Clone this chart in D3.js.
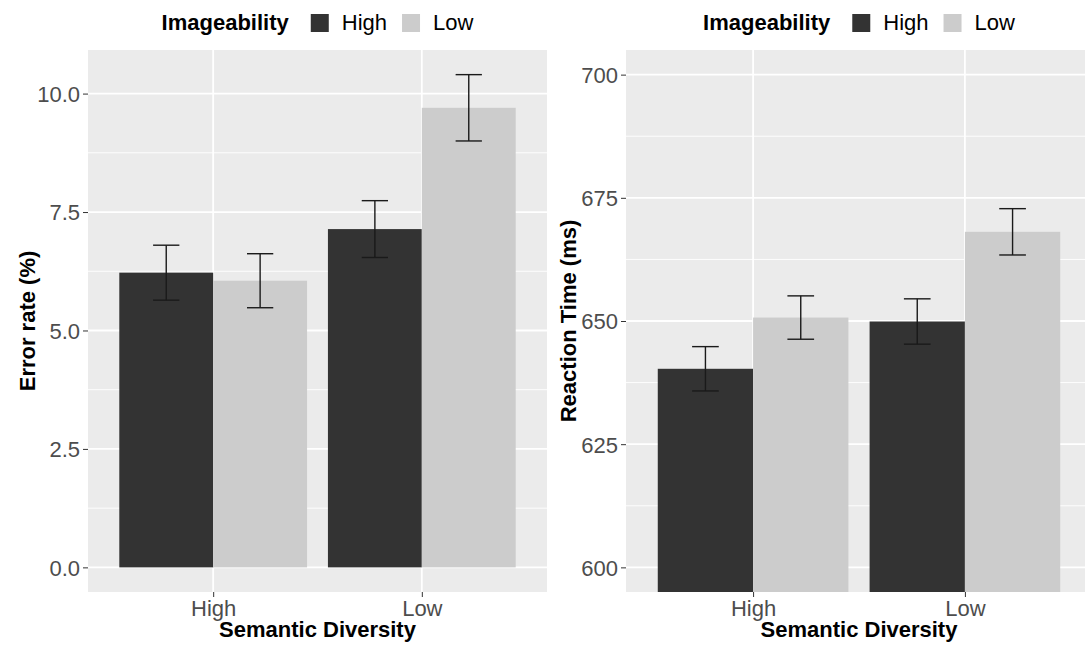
<!DOCTYPE html>
<html>
<head>
<meta charset="utf-8">
<script src="https://cdn.jsdelivr.net/npm/d3@7"></script>
<style>
  body { margin: 0; background: #fff; }
  text { font-family: "Liberation Sans", Arial, sans-serif; }
</style>
</head>
<body>
<div id="chart"></div>
<script>
// categories
const diversity = ['High', 'Low'];
const imageability = ['High', 'Low'];
const fills = ['#333333', '#CCCCCC'];

// error rate (%) : means and half-width of error bars, one array per imageability level
const errMeanHigh = [6.22, 7.14];
const errMeanLow  = [6.05, 9.70];
const errSeHigh   = [0.58, 0.60];
const errSeLow    = [0.57, 0.70];
const errTicks    = [0, 2.5, 5, 7.5, 10];

// reaction time (ms)
const rtMeanHigh = [640.3, 649.9];
const rtMeanLow  = [650.7, 668.1];
const rtSeHigh   = [4.5, 4.6];
const rtSeLow    = [4.4, 4.7];
const rtTicks    = [600, 625, 650, 675, 700];
const rtLimits   = [600, 700];

const W = 1085, H = 649;
const panelTop = 50, panelBottom = 592;

const svg = d3.select('#chart').append('svg')
    .attr('width', W)
    .attr('height', H);

// turn the arrays into rows for one panel
function rows(meanHigh, meanLow, seHigh, seLow){
    const out = [];
    diversity.forEach((d, i) => {
        out.push({div: d, img: 'High', mean: meanHigh[i], se: seHigh[i]});
        out.push({div: d, img: 'Low', mean: meanLow[i], se: seLow[i]});
    });
    return out;
}

function drawPanel(opt){
    const {x0, x1, data, ticks, fmt, title, titleX, limits, id} = opt;

    // y domain like ggplot: data range (or limits) expanded by 5%
    let lo, hi;
    if (limits){ [lo, hi] = limits; }
    else {
        lo = Math.min(0, d3.min(data, d => d.mean - d.se));
        hi = d3.max(data, d => d.mean + d.se);
    }
    const pad = (hi - lo) * 0.05;
    const y = d3.scaleLinear().domain([lo - pad, hi + pad]).range([panelBottom, panelTop]);

    const x = d3.scalePoint().domain(diversity).range([x0, x1]).padding(0.6);
    const inner = d3.scaleBand().domain(imageability)
        .range([-0.45 * x.step(), 0.45 * x.step()]).padding(0);
    const color = d3.scaleOrdinal().domain(imageability).range(fills);

    const g = svg.append('g');

    g.append('clipPath').attr('id', id)
        .append('rect')
        .attr('x', x0).attr('y', panelTop)
        .attr('width', x1 - x0).attr('height', panelBottom - panelTop);

    // panel background
    g.append('rect')
        .attr('x', x0).attr('y', panelTop)
        .attr('width', x1 - x0).attr('height', panelBottom - panelTop)
        .attr('fill', '#EBEBEB');

    const grid = g.append('g').attr('clip-path', `url(#${id})`);

    // minor gridlines halfway between major ones
    const minor = d3.pairs(ticks).map(([a, b]) => (a + b) / 2);
    grid.selectAll('line.minor')
        .data(minor)
        .join('line')
        .classed('minor', true)
        .attr('x1', x0).attr('x2', x1)
        .attr('y1', d => y(d)).attr('y2', d => y(d))
        .attr('stroke', '#fff').attr('stroke-width', 0.9);

    grid.selectAll('line.major')
        .data(ticks)
        .join('line')
        .classed('major', true)
        .attr('x1', x0).attr('x2', x1)
        .attr('y1', d => y(d)).attr('y2', d => y(d))
        .attr('stroke', '#fff').attr('stroke-width', 1.8);

    grid.selectAll('line.vmajor')
        .data(diversity)
        .join('line')
        .classed('vmajor', true)
        .attr('x1', d => x(d)).attr('x2', d => x(d))
        .attr('y1', panelTop).attr('y2', panelBottom)
        .attr('stroke', '#fff').attr('stroke-width', 1.8);

    // bars
    const base = Math.max(y.domain()[0], 0);
    grid.selectAll('rect.bar')
        .data(data)
        .join('rect')
        .classed('bar', true)
        .attr('x', d => x(d.div) + inner(d.img))
        .attr('width', inner.bandwidth())
        .attr('y', d => y(d.mean))
        .attr('height', d => y(base) - y(d.mean) + (limits ? 40 : 0))
        .attr('fill', d => color(d.img));

    // error bars
    const cap = inner.bandwidth() * 0.14;
    const eb = grid.selectAll('g.eb')
        .data(data)
        .join('g')
        .classed('eb', true)
        .attr('transform', d => `translate(${x(d.div) + inner(d.img) + inner.bandwidth() / 2},0)`)
        .attr('stroke', '#1a1a1a')
        .attr('stroke-width', 1.4);
    eb.append('line')
        .attr('y1', d => y(d.mean - d.se)).attr('y2', d => y(d.mean + d.se));
    eb.append('line')
        .attr('x1', -cap).attr('x2', cap)
        .attr('y1', d => y(d.mean + d.se)).attr('y2', d => y(d.mean + d.se));
    eb.append('line')
        .attr('x1', -cap).attr('x2', cap)
        .attr('y1', d => y(d.mean - d.se)).attr('y2', d => y(d.mean - d.se));

    // axes
    const yAxis = g.append('g')
        .attr('transform', `translate(${x0},0)`)
        .call(d3.axisLeft(y).tickValues(ticks).tickFormat(fmt).tickSize(5).tickPadding(3));
    const xAxis = g.append('g')
        .attr('transform', `translate(0,${panelBottom})`)
        .call(d3.axisBottom(x).tickSize(5).tickPadding(3));
    [yAxis, xAxis].forEach(a => {
        a.select('.domain').remove();
        a.selectAll('line').attr('stroke', '#333').attr('stroke-width', 1);
        a.selectAll('text')
            .attr('fill', '#4D4D4D')
            .style('font-size', '22px')
            .style('font-family', '"Liberation Sans", Arial, sans-serif');
    });
    yAxis.selectAll('text').attr('dy', '0.36em');
    xAxis.selectAll('text').attr('dy', '0.71em');

    // axis titles
    const cx = (x0 + x1) / 2;
    g.append('text')
        .attr('x', cx).attr('y', 637)
        .attr('text-anchor', 'middle')
        .style('font-size', '22px').style('font-weight', 'bold')
        .text('Semantic Diversity');
    g.append('text')
        .attr('transform', `translate(${titleX},${(panelTop + panelBottom) / 2}) rotate(-90)`)
        .attr('text-anchor', 'middle')
        .style('font-size', '22px').style('font-weight', 'bold')
        .text(title);

    // legend on top, centred over the panel
    const lg = g.append('g');
    const lt = lg.append('text')
        .attr('x', 0).attr('y', 30)
        .style('font-size', '22px').style('font-weight', 'bold')
        .text('Imageability');
    let pos = lt.node().getComputedTextLength() + 22;
    imageability.forEach(k => {
        lg.append('rect')
            .attr('x', pos).attr('y', 14)
            .attr('width', 18).attr('height', 18)
            .attr('fill', color(k));
        const t = lg.append('text')
            .attr('x', pos + 31).attr('y', 30)
            .style('font-size', '22px').attr('fill', '#000')
            .text(k);
        pos += 31 + t.node().getComputedTextLength() + 15;
    });
    const lw = pos - 15;
    lg.attr('transform', `translate(${cx - lw / 2},0)`);
}

drawPanel({
    id: 'clip-err', x0: 88, x1: 547,
    data: rows(errMeanHigh, errMeanLow, errSeHigh, errSeLow),
    ticks: errTicks, fmt: d3.format('.1f'),
    title: 'Error rate (%)', titleX: 35
});

drawPanel({
    id: 'clip-rt', x0: 626, x1: 1092,
    data: rows(rtMeanHigh, rtMeanLow, rtSeHigh, rtSeLow),
    ticks: rtTicks, fmt: d3.format('d'),
    title: 'Reaction Time (ms)', titleX: 576, limits: rtLimits
});
</script>
</body>
</html>
